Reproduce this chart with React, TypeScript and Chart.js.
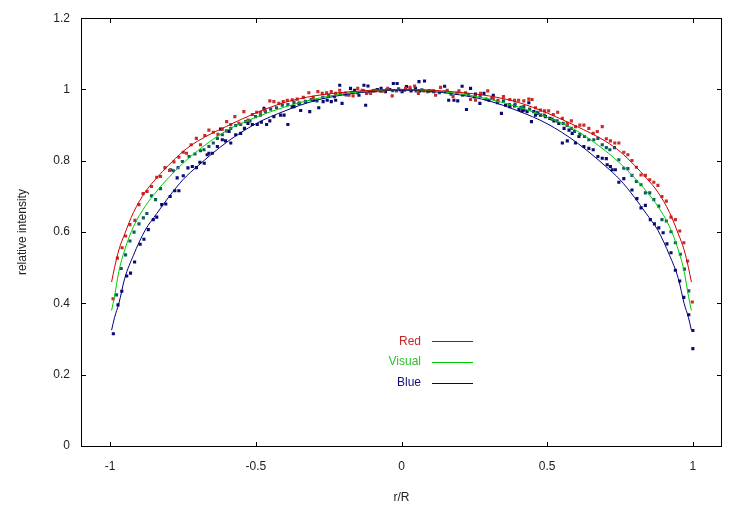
import { useEffect, useRef } from 'react';
import { Chart, registerables } from 'chart.js';
Chart.register(...registerables);

const seriesNames = ['Red', 'Visual', 'Blue'];
const xTickValues = [-1, -0.5, 0, 0.5, 1];
const yTickValues = [0, 0.2, 0.4, 0.6, 0.8, 1, 1.2];
const xTitle = 'r/R';
const yTitle = 'relative intensity';

// fitted curves
const lineX = [-0.995, -0.985, -0.97, -0.95, -0.92, -0.88, -0.84, -0.8, -0.75, -0.7, -0.6, -0.5, -0.4, -0.3, -0.2, -0.1, 0, 0.1, 0.2, 0.3, 0.4, 0.5, 0.6, 0.7, 0.75, 0.8, 0.84, 0.88, 0.92, 0.95, 0.97, 0.985, 0.995];
const redLine = [0.46, 0.5, 0.55, 0.595, 0.655, 0.712, 0.752, 0.787, 0.826, 0.855, 0.897, 0.934, 0.964, 0.982, 0.992, 0.998, 1.0, 0.998, 0.992, 0.982, 0.964, 0.934, 0.897, 0.855, 0.826, 0.787, 0.752, 0.712, 0.655, 0.595, 0.55, 0.5, 0.46];
const visualLine = [0.38, 0.42, 0.49, 0.55, 0.615, 0.672, 0.715, 0.752, 0.793, 0.828, 0.885, 0.922, 0.951, 0.973, 0.988, 0.997, 1.0, 0.997, 0.988, 0.973, 0.951, 0.922, 0.885, 0.828, 0.793, 0.752, 0.715, 0.672, 0.615, 0.55, 0.49, 0.42, 0.38];
const blueLine = [0.325, 0.36, 0.4, 0.47, 0.535, 0.605, 0.652, 0.697, 0.747, 0.785, 0.852, 0.904, 0.94, 0.968, 0.985, 0.995, 0.998, 0.995, 0.985, 0.968, 0.94, 0.904, 0.852, 0.785, 0.747, 0.697, 0.652, 0.605, 0.535, 0.47, 0.4, 0.36, 0.325];

// measured points [r/R, intensity]
const redPoints: [number, number][] = [
  [-0.990, 0.413], [-0.975, 0.527], [-0.959, 0.556], [-0.947, 0.589], [-0.932, 0.621], [-0.915, 0.633], [-0.901, 0.677], [-0.887, 0.708], [-0.873, 0.714], [-0.858, 0.728], [-0.840, 0.754], [-0.827, 0.756], [-0.812, 0.781], [-0.796, 0.773], [-0.781, 0.797], [-0.764, 0.810], [-0.749, 0.824], [-0.738, 0.821], [-0.722, 0.845], [-0.704, 0.863], [-0.690, 0.845], [-0.675, 0.871], [-0.661, 0.886], [-0.646, 0.880], [-0.630, 0.874], [-0.615, 0.889], [-0.600, 0.910], [-0.586, 0.902], [-0.572, 0.924], [-0.558, 0.905], [-0.541, 0.938], [-0.527, 0.914], [-0.512, 0.930], [-0.497, 0.936], [-0.484, 0.936], [-0.469, 0.942], [-0.452, 0.968], [-0.438, 0.966], [-0.421, 0.961], [-0.406, 0.966], [-0.392, 0.970], [-0.375, 0.971], [-0.358, 0.973], [-0.337, 0.978], [-0.318, 0.991], [-0.303, 0.978], [-0.287, 0.994], [-0.272, 0.989], [-0.257, 0.991], [-0.241, 0.994], [-0.226, 0.989], [-0.212, 0.998], [-0.195, 0.987], [-0.180, 0.984], [-0.166, 0.982], [-0.150, 1.003], [-0.135, 0.998], [-0.120, 0.989], [-0.106, 0.989], [-0.089, 0.996], [-0.074, 0.996], [-0.061, 0.996], [-0.047, 1.003], [-0.032, 0.982], [-0.017, 0.996], [-0.003, 0.998], [0.014, 1.003], [0.029, 1.006], [0.045, 1.010], [0.058, 0.989], [0.077, 0.996], [0.099, 0.996], [0.117, 0.984], [0.134, 1.006], [0.157, 0.998], [0.177, 0.980], [0.197, 0.996], [0.220, 0.991], [0.237, 0.972], [0.254, 0.970], [0.271, 0.989], [0.296, 0.996], [0.315, 0.975], [0.331, 0.970], [0.350, 0.980], [0.372, 0.972], [0.388, 0.970], [0.402, 0.970], [0.420, 0.968], [0.437, 0.973], [0.448, 0.972], [0.460, 0.949], [0.477, 0.942], [0.491, 0.940], [0.505, 0.940], [0.521, 0.930], [0.536, 0.936], [0.552, 0.919], [0.569, 0.905], [0.583, 0.912], [0.597, 0.896], [0.612, 0.900], [0.626, 0.900], [0.643, 0.891], [0.658, 0.877], [0.672, 0.882], [0.689, 0.896], [0.703, 0.862], [0.717, 0.856], [0.732, 0.850], [0.746, 0.850], [0.763, 0.824], [0.777, 0.817], [0.791, 0.801], [0.806, 0.782], [0.822, 0.760], [0.837, 0.759], [0.852, 0.747], [0.866, 0.740], [0.880, 0.731], [0.894, 0.700], [0.909, 0.687], [0.925, 0.642], [0.940, 0.635], [0.955, 0.603], [0.969, 0.570], [0.982, 0.519], [0.998, 0.404],
];
const visualPoints: [number, number][] = [
  [-0.978, 0.424], [-0.962, 0.498], [-0.947, 0.536], [-0.932, 0.575], [-0.918, 0.600], [-0.901, 0.623], [-0.886, 0.640], [-0.874, 0.652], [-0.858, 0.702], [-0.844, 0.691], [-0.827, 0.722], [-0.792, 0.775], [-0.783, 0.772], [-0.767, 0.781], [-0.752, 0.798], [-0.729, 0.812], [-0.709, 0.819], [-0.690, 0.828], [-0.678, 0.831], [-0.661, 0.840], [-0.646, 0.850], [-0.632, 0.863], [-0.615, 0.873], [-0.601, 0.884], [-0.586, 0.891], [-0.569, 0.899], [-0.552, 0.902], [-0.535, 0.910], [-0.520, 0.912], [-0.501, 0.924], [-0.484, 0.928], [-0.467, 0.938], [-0.449, 0.945], [-0.429, 0.949], [-0.409, 0.956], [-0.390, 0.958], [-0.369, 0.964], [-0.35, 0.962], [-0.33, 0.967], [-0.31, 0.972], [-0.29, 0.968], [-0.27, 0.978], [-0.25, 0.983], [-0.23, 0.980], [-0.21, 0.988], [-0.19, 0.985], [-0.17, 0.992], [-0.15, 0.990], [-0.13, 0.996], [-0.11, 0.993], [-0.09, 0.998], [-0.07, 0.995], [-0.05, 1.0], [-0.03, 0.997], [-0.01, 1.002], [0.01, 0.998], [0.03, 1.001], [0.05, 0.996], [0.07, 0.999], [0.09, 0.994], [0.11, 0.996], [0.13, 0.991], [0.15, 0.993], [0.17, 0.987], [0.19, 0.989], [0.21, 0.984], [0.23, 0.985], [0.25, 0.979], [0.27, 0.981], [0.29, 0.973], [0.31, 0.975], [0.33, 0.966], [0.35, 0.968], [0.37, 0.958], [0.39, 0.959], [0.41, 0.950], [0.420, 0.952], [0.44, 0.945], [0.465, 0.936], [0.49, 0.928], [0.517, 0.917], [0.534, 0.912], [0.555, 0.905], [0.569, 0.899], [0.583, 0.891], [0.594, 0.882], [0.612, 0.874], [0.628, 0.868], [0.643, 0.859], [0.660, 0.859], [0.674, 0.863], [0.689, 0.845], [0.703, 0.837], [0.715, 0.831], [0.731, 0.837], [0.746, 0.803], [0.763, 0.779], [0.777, 0.778], [0.791, 0.759], [0.806, 0.742], [0.822, 0.733], [0.837, 0.710], [0.852, 0.710], [0.866, 0.691], [0.883, 0.673], [0.894, 0.635], [0.909, 0.631], [0.925, 0.601], [0.940, 0.570], [0.957, 0.538], [0.971, 0.496], [0.986, 0.435],
];
const bluePoints: [number, number][] = [
  [-0.989, 0.315], [-0.973, 0.396], [-0.960, 0.434], [-0.943, 0.477], [-0.930, 0.485], [-0.916, 0.516], [-0.897, 0.566], [-0.884, 0.580], [-0.869, 0.607], [-0.852, 0.635], [-0.840, 0.642], [-0.823, 0.677], [-0.809, 0.679], [-0.794, 0.700], [-0.778, 0.716], [-0.770, 0.752], [-0.764, 0.716], [-0.749, 0.758], [-0.733, 0.780], [-0.718, 0.784], [-0.704, 0.781], [-0.692, 0.796], [-0.677, 0.793], [-0.667, 0.817], [-0.661, 0.821], [-0.649, 0.821], [-0.632, 0.840], [-0.621, 0.889], [-0.615, 0.859], [-0.604, 0.856], [-0.592, 0.882], [-0.586, 0.850], [-0.569, 0.873], [-0.552, 0.877], [-0.539, 0.891], [-0.527, 0.905], [-0.512, 0.902], [-0.495, 0.902], [-0.481, 0.908], [-0.472, 0.947], [-0.463, 0.902], [-0.452, 0.912], [-0.438, 0.924], [-0.415, 0.928], [-0.403, 0.928], [-0.390, 0.902], [-0.375, 0.952], [-0.369, 0.952], [-0.352, 0.961], [-0.346, 0.941], [-0.329, 0.966], [-0.315, 0.938], [-0.301, 0.970], [-0.284, 0.949], [-0.269, 0.966], [-0.255, 0.970], [-0.241, 0.966], [-0.226, 0.970], [-0.212, 1.012], [-0.204, 0.961], [-0.192, 0.989], [-0.175, 1.003], [-0.161, 0.998], [-0.146, 0.984], [-0.129, 1.012], [-0.123, 0.956], [-0.115, 1.010], [-0.097, 0.996], [-0.083, 1.000], [-0.070, 1.003], [-0.055, 0.994], [-0.040, 1.000], [-0.028, 1.017], [-0.015, 1.017], [0.002, 0.994], [0.017, 1.008], [0.033, 0.996], [0.048, 1.003], [0.060, 1.022], [0.063, 0.996], [0.079, 1.024], [0.094, 0.996], [0.111, 0.994], [0.148, 1.009], [0.162, 0.970], [0.180, 0.970], [0.193, 0.968], [0.208, 1.009], [0.223, 0.944], [0.237, 1.003], [0.254, 0.987], [0.269, 0.961], [0.283, 0.989], [0.300, 0.970], [0.315, 0.984], [0.329, 0.963], [0.343, 0.933], [0.357, 0.956], [0.372, 0.952], [0.388, 0.954], [0.403, 0.944], [0.414, 0.940], [0.420, 0.942], [0.431, 0.938], [0.437, 0.963], [0.446, 0.910], [0.454, 0.938], [0.460, 0.928], [0.468, 0.933], [0.477, 0.928], [0.494, 0.924], [0.509, 0.919], [0.523, 0.912], [0.540, 0.905], [0.552, 0.850], [0.558, 0.891], [0.569, 0.856], [0.575, 0.886], [0.586, 0.877], [0.597, 0.850], [0.609, 0.868], [0.626, 0.840], [0.643, 0.835], [0.658, 0.831], [0.674, 0.812], [0.689, 0.807], [0.703, 0.806], [0.706, 0.789], [0.717, 0.784], [0.723, 0.775], [0.734, 0.775], [0.746, 0.740], [0.763, 0.750], [0.791, 0.718], [0.808, 0.694], [0.822, 0.668], [0.837, 0.675], [0.854, 0.635], [0.868, 0.623], [0.883, 0.612], [0.898, 0.598], [0.911, 0.567], [0.925, 0.542], [0.940, 0.493], [0.955, 0.463], [0.969, 0.417], [0.986, 0.368], [1.000, 0.324], [1.000, 0.273],
];

const lineColors = ['#d00000', '#00cc00', '#000080'];
const pointColors = ['#cc2a2a', '#0b5c60', '#0a0a72'];
const legendTextColors = ['#c02828', '#30c030', '#101078'];

const FONT = '"Liberation Sans", Arial, sans-serif';

const framePlugin = {
  id: 'gnuframe',
  afterDraw(chart: any) {
    const { ctx, chartArea: a, scales } = chart;
    const xs = scales.x;
    const ys = scales.y;
    ctx.save();
    ctx.setLineDash([]);
    ctx.globalAlpha = 1;
    ctx.globalCompositeOperation = 'source-over';
    const L = Math.round(a.left);
    const R = Math.round(a.right) - 1;
    const T = Math.round(a.top);
    const B = Math.round(a.bottom);
    ctx.fillStyle = '#000000';
    // frame
    ctx.fillRect(L, T, R - L + 1, 1);
    ctx.fillRect(L, B, R - L + 1, 1);
    ctx.fillRect(L, T, 1, B - T + 1);
    ctx.fillRect(R, T, 1, B - T + 1);
    const tl = 5;
    xTickValues.forEach((v) => {
      const px = Math.round(xs.getPixelForValue(v));
      ctx.fillRect(px, B - tl + 1, 1, tl);
      ctx.fillRect(px, T, 1, tl);
    });
    yTickValues.forEach((v) => {
      const py = Math.round(ys.getPixelForValue(v));
      ctx.fillRect(L, py, tl, 1);
      ctx.fillRect(R - tl + 1, py, tl, 1);
    });
    // key
    ctx.font = '12px ' + FONT;
    ctx.textBaseline = 'middle';
    ctx.textAlign = 'right';
    const kx = a.left + 340;
    const ky = a.top + 323;
    seriesNames.forEach((name, i) => {
      const y = ky + i * 20.8;
      ctx.fillStyle = legendTextColors[i];
      ctx.fillText(name, kx, y);
      ctx.fillStyle = lineColors[i];
      ctx.fillRect(kx + 11, Math.round(y), 41, 1);
    });
    ctx.restore();
  },
};

export default function App() {
  const ref = useRef<HTMLCanvasElement>(null);
  useEffect(() => {
    document.body.style.margin = '0';
    const lines = [redLine, visualLine, blueLine];
    const pts = [redPoints, visualPoints, bluePoints];
    const datasets: any[] = [];
    seriesNames.forEach((name, i) => {
      datasets.push({
        label: name,
        data: lineX.map((x, k) => ({ x, y: lines[i][k] })),
        showLine: true,
        borderColor: lineColors[i],
        borderWidth: 1,
        pointRadius: 0,
        cubicInterpolationMode: 'monotone',
        order: 1,
      });
      datasets.push({
        label: name + ' points',
        data: pts[i].map(([x, y]) => ({ x, y })),
        showLine: false,
        pointStyle: 'rect',
        pointRadius: 2.2,
        pointBorderWidth: 0,
        borderWidth: 0,
        backgroundColor: pointColors[i],
        pointBackgroundColor: pointColors[i],
        order: 2,
      });
    });
    const chart = new Chart(ref.current!, {
      type: 'scatter',
      data: { datasets },
      plugins: [framePlugin],
      options: {
        animation: false,
        responsive: true,
        maintainAspectRatio: false,
        layout: { padding: { left: 0, top: 16, right: 31, bottom: 0 } },
        plugins: { legend: { display: false }, tooltip: { enabled: false } },
        scales: {
          x: {
            type: 'linear',
            min: -1.1,
            max: 1.1,
            afterBuildTicks: (s: any) => { s.ticks = xTickValues.map((value) => ({ value })); },
            afterFit: (s: any) => { s.height = 62; },
            grid: { display: false, drawTicks: false, tickLength: 0 },
            border: { display: false },
            ticks: {
              padding: 13,
              maxRotation: 0,
              autoSkip: false,
              color: '#222',
              font: { family: FONT, size: 12 },
              callback: (v: any) => String(v),
            },
            title: {
              display: true,
              text: xTitle,
              color: '#222',
              font: { family: FONT, size: 12 },
              padding: { top: 0, bottom: 3 },
            },
          },
          y: {
            type: 'linear',
            min: 0,
            max: 1.2,
            afterBuildTicks: (s: any) => { s.ticks = yTickValues.map((value) => ({ value })); },
            afterFit: (s: any) => { s.width = 81; },
            grid: { display: false, drawTicks: false, tickLength: 0 },
            border: { display: false },
            ticks: {
              padding: 11,
              autoSkip: false,
              color: '#222',
              font: { family: FONT, size: 12 },
              callback: (v: any) => String(v),
            },
            title: {
              display: true,
              text: yTitle,
              color: '#222',
              font: { family: FONT, size: 12 },
              padding: { top: 15, bottom: 0 },
            },
          },
        },
      },
    });
    return () => chart.destroy();
  }, []);
  return (
    <div style={{ width: 753, height: 508, position: 'relative', background: '#fff' }}>
      <canvas ref={ref} />
    </div>
  );
}
